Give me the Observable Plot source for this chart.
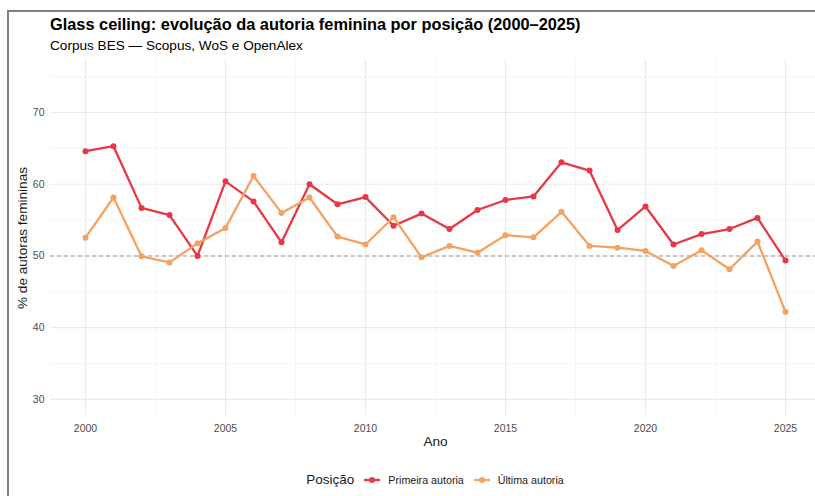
<!DOCTYPE html>
<html>
<head>
<meta charset="utf-8">
<script src="https://cdn.jsdelivr.net/npm/d3@7"></script>
<script src="https://cdn.jsdelivr.net/npm/@observablehq/plot@0.6"></script>
<style>
  html, body { margin: 0; padding: 0; background: #fff; overflow: hidden; width: 815px; height: 496px; }
  body { font-family: "Liberation Sans", Arial, sans-serif; position: relative; }
  #frame { position: absolute; left: 7px; top: 10px; width: 900px; height: 600px; border-left: 2px solid #808080; border-top: 2px solid #808080; }
  #title { position: absolute; left: 50px; top: 15px; font-size: 16.35px; font-weight: bold; color: #000; white-space: nowrap; }
  #subtitle { position: absolute; left: 50px; top: 38px; font-size: 13.6px; color: #000; white-space: nowrap; }
  #chart { position: absolute; left: 0; top: 55px; width: 822px; }
  #chart svg { max-width: none !important; }
  #legend { position: absolute; top: 472px; left: 0; width: 870px; display: flex; justify-content: center; align-items: center; font-size: 10.7px; color: #1a1a1a; }
  #legend .ttl { font-size: 13.5px; margin-right: 10px; }
  #legend .item { display: flex; align-items: center; margin-right: 10px; }
  #legend .item:last-child { margin-right: 0; }
  #legend svg { margin-right: 8px; }
</style>
</head>
<body>
<div id="frame"></div>
<div id="title">Glass ceiling: evolução da autoria feminina por posição (2000–2025)</div>
<div id="subtitle">Corpus BES — Scopus, WoS e OpenAlex</div>
<div id="chart"></div>
<div id="legend"></div>
<script>
const anos = [2000,2001,2002,2003,2004,2005,2006,2007,2008,2009,2010,2011,2012,2013,2014,2015,2016,2017,2018,2019,2020,2021,2022,2023,2024,2025];
const primeira = [64.6,65.3,56.7,55.7,50.0,60.4,57.6,51.9,60.0,57.2,58.2,54.2,55.9,53.75,56.4,57.8,58.3,63.05,61.9,53.6,56.9,51.6,53.05,53.75,55.3,49.35];
const ultima = [52.55,58.15,49.95,49.1,51.75,53.9,61.15,56.0,58.15,52.7,51.6,55.4,49.8,51.4,50.45,52.9,52.6,56.15,51.4,51.15,50.7,48.6,50.8,48.15,52.0,42.2];
const series = ["Primeira autoria", "Última autoria"];
const cores = ["#e63946", "#f4a261"];
const yTicks = [30, 40, 50, 60, 70];
const yMinor = [35, 45, 55, 65, 75];
const xTicks = [2000, 2005, 2010, 2015, 2020, 2025];
const xMinor = [2002.5, 2007.5, 2012.5, 2017.5, 2022.5];

const data = [];
anos.forEach((a, i) => {
  data.push({ano: a, pct: primeira[i], posicao: series[0]});
  data.push({ano: a, pct: ultima[i], posicao: series[1]});
});

const chart = Plot.plot({
  width: 822,
  height: 400,
  marginTop: 5,
  marginBottom: 40,
  marginLeft: 50,
  marginRight: 2,
  style: { fontFamily: "Liberation Sans, Arial, sans-serif", background: "transparent", maxWidth: "none" },
  x: { domain: [1998.75, 2026.25] },
  y: { domain: [27.75, 77.25] },
  color: { domain: series, range: cores },
  marks: [
    Plot.ruleY(yMinor, { stroke: "#f2f2f2", strokeWidth: 0.8 }),
    Plot.ruleX(xMinor, { stroke: "#f2f2f2", strokeWidth: 0.8 }),
    Plot.ruleY(yTicks, { stroke: "#ebebeb", strokeWidth: 1.1 }),
    Plot.ruleX(xTicks, { stroke: "#ebebeb", strokeWidth: 1.1 }),
    Plot.ruleY([50], { stroke: "#999999", strokeWidth: 1.1, strokeDasharray: "4,3" }),
    Plot.axisX({ ticks: xTicks, tickFormat: "d", tickSize: 0, tickPadding: 9, fontSize: 10.5, color: "#4d4d4d", label: null }),
    Plot.axisY({ ticks: yTicks, tickSize: 0, tickPadding: 6, fontSize: 10.5, color: "#4d4d4d", label: null }),
    Plot.text(["Ano"], { frameAnchor: "bottom", dy: 30, fontSize: 13.6, fill: "#1a1a1a" }),
    Plot.text(["% de autoras femininas"], { frameAnchor: "left", textAnchor: "middle", dx: -28, rotate: -90, fontSize: 13.6, fill: "#1a1a1a" }),
    Plot.line(data, { x: "ano", y: "pct", stroke: "posicao", z: "posicao", strokeWidth: 2.3 }),
    Plot.dot(data, { x: "ano", y: "pct", fill: "posicao", r: 3 })
  ]
});
chart.style.maxWidth = "none";
document.getElementById("chart").appendChild(chart);

const leg = document.getElementById("legend");
const t = document.createElement("span");
t.className = "ttl";
t.textContent = "Posição";
leg.appendChild(t);
series.forEach((s, i) => {
  const it = document.createElement("span");
  it.className = "item";
  it.innerHTML = `<svg width="16" height="10"><line x1="0" y1="5" x2="16" y2="5" stroke="${cores[i]}" stroke-width="2.3"/><circle cx="8" cy="5" r="3" fill="${cores[i]}"/></svg><span>${s}</span>`;
  leg.appendChild(it);
});
</script>
</body>
</html>
